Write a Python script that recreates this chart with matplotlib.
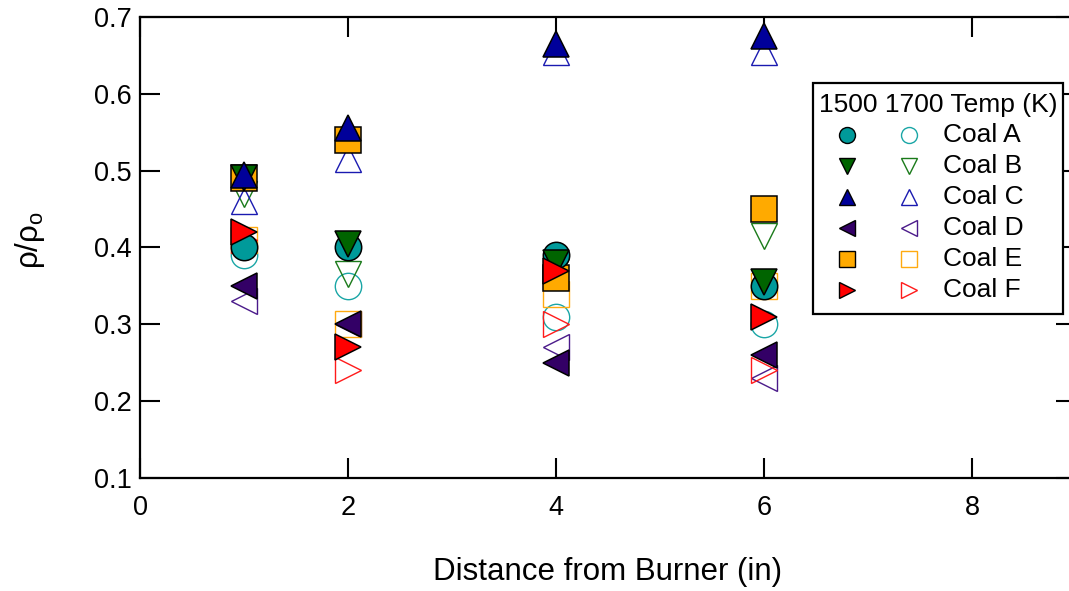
import matplotlib
matplotlib.use("Agg")
import matplotlib.pyplot as plt
from matplotlib.lines import Line2D
from matplotlib.patches import Rectangle

plt.rcParams["font.family"] = ["Liberation Sans", "DejaVu Sans"]
plt.rcParams["mathtext.fontset"] = "custom"
plt.rcParams["mathtext.rm"] = "Liberation Sans"

# Distance from burner (in)
distance = [1, 2, 4, 6]

coals = ["Coal A", "Coal B", "Coal C", "Coal D", "Coal E", "Coal F"]

# rho/rho_o at 1500 K
a_1500 = [0.40, 0.40, 0.39, 0.35]
b_1500 = [0.49, 0.405, 0.38, 0.355]
c_1500 = [0.495, 0.555, 0.665, 0.675]
d_1500 = [0.35, 0.30, 0.25, 0.26]
e_1500 = [0.49, 0.54, 0.36, 0.45]
f_1500 = [0.42, 0.27, 0.37, 0.31]

# rho/rho_o at 1700 K
a_1700 = [0.39, 0.35, 0.31, 0.30]
b_1700 = [0.47, 0.365, 0.37, 0.415]
c_1700 = [0.46, 0.515, 0.655, 0.655]
d_1700 = [0.33, 0.30, 0.27, 0.23]
e_1700 = [0.41, 0.30, 0.34, 0.35]
f_1700 = [0.41, 0.24, 0.30, 0.24]

markers = {"Coal A": "o", "Coal B": "v", "Coal C": "^",
           "Coal D": "<", "Coal E": "s", "Coal F": ">"}
fill_colors = {"Coal A": "#009a9a", "Coal B": "#006400", "Coal C": "#00009a",
               "Coal D": "#330066", "Coal E": "#ffaa00", "Coal F": "#ff0000"}
open_colors = {"Coal A": "#1aa6a6", "Coal B": "#1a7a1a", "Coal C": "#1a1ab0",
               "Coal D": "#4a1a8a", "Coal E": "#ffaa10", "Coal F": "#ff1a1a"}

hot = dict(zip(coals, [a_1500, b_1500, c_1500, d_1500, e_1500, f_1500]))
hotter = dict(zip(coals, [a_1700, b_1700, c_1700, d_1700, e_1700, f_1700]))

W, H = 1069, 591
fig = plt.figure(figsize=(W / 100, H / 100), dpi=100)
x0, x1, y0, y1 = 140, 1076, 17, 478
ax = fig.add_axes([x0 / W, 1 - y1 / H, (x1 - x0) / W, (y1 - y0) / H])

ms = 19

# 1700 K: open markers
for c in coals:
    ax.plot(distance, hotter[c], linestyle="none", marker=markers[c], ms=ms,
            markerfacecolor="none", markeredgecolor=open_colors[c],
            markeredgewidth=1.0, zorder=2)

# 1500 K: filled markers
for i, c in enumerate(["Coal E", "Coal A", "Coal B", "Coal D", "Coal C", "Coal F"]):
    ax.plot(distance, hot[c], linestyle="none", marker=markers[c], ms=ms,
            markerfacecolor=fill_colors[c], markeredgecolor="black",
            markeredgewidth=1.1, zorder=3 + i)

ax.set_xlim(0, 9)
ax.set_ylim(0.1, 0.7)
ax.set_xticks([0, 2, 4, 6, 8])
ax.set_yticks([0.1, 0.2, 0.3, 0.4, 0.5, 0.6, 0.7])
ax.set_yticklabels(["0.1", "0.2", "0.3", "0.4", "0.5", "0.6", "0.7"])
ax.tick_params(direction="in", length=14.4, width=1.5, labelsize=19.5,
               top=True, right=True, color="black")
ax.tick_params(axis="x", pad=12)
ax.tick_params(axis="y", pad=6)
for s in ax.spines.values():
    s.set_linewidth(1.6)

fig.text(608 / W, 1 - 572 / H, "Distance from Burner (in)", fontsize=22.5,
         ha="center", va="center")
fig.text(30 / W, 1 - 240 / H, "ρ/ρ$_{\\mathrm{o}}$", fontsize=22.5,
         rotation=90, ha="center", va="center")

# Legend: two marker columns (1500 K, 1700 K) and a label column
def fx(px):
    return px / W

def fy(py):
    return 1 - py / H

fig.patches.append(Rectangle((fx(813), fy(314)), fx(1063) - fx(813), fy(83) - fy(314),
                             transform=fig.transFigure, facecolor="white",
                             edgecolor="black", linewidth=1.6, zorder=20))
fig.text(fx(819), fy(105), "1500 1700 Temp (K)", fontsize=19, ha="left",
         va="center", zorder=21)
rows = [135, 166, 197, 228, 259, 290]
for c, ry in zip(coals, rows):
    fig.add_artist(Line2D([fx(847)], [fy(ry)], transform=fig.transFigure,
                          marker=markers[c], ms=11.5, linestyle="none",
                          markerfacecolor=fill_colors[c], markeredgecolor="black",
                          markeredgewidth=1.0, zorder=21))
    fig.add_artist(Line2D([fx(909)], [fy(ry)], transform=fig.transFigure,
                          marker=markers[c], ms=11.5, linestyle="none",
                          markerfacecolor="none", markeredgecolor=open_colors[c],
                          markeredgewidth=1.0, zorder=21))
    fig.text(fx(943), fy(ry), c, fontsize=19, ha="left", va="center", zorder=21)

fig.savefig("out.png", dpi=100)
